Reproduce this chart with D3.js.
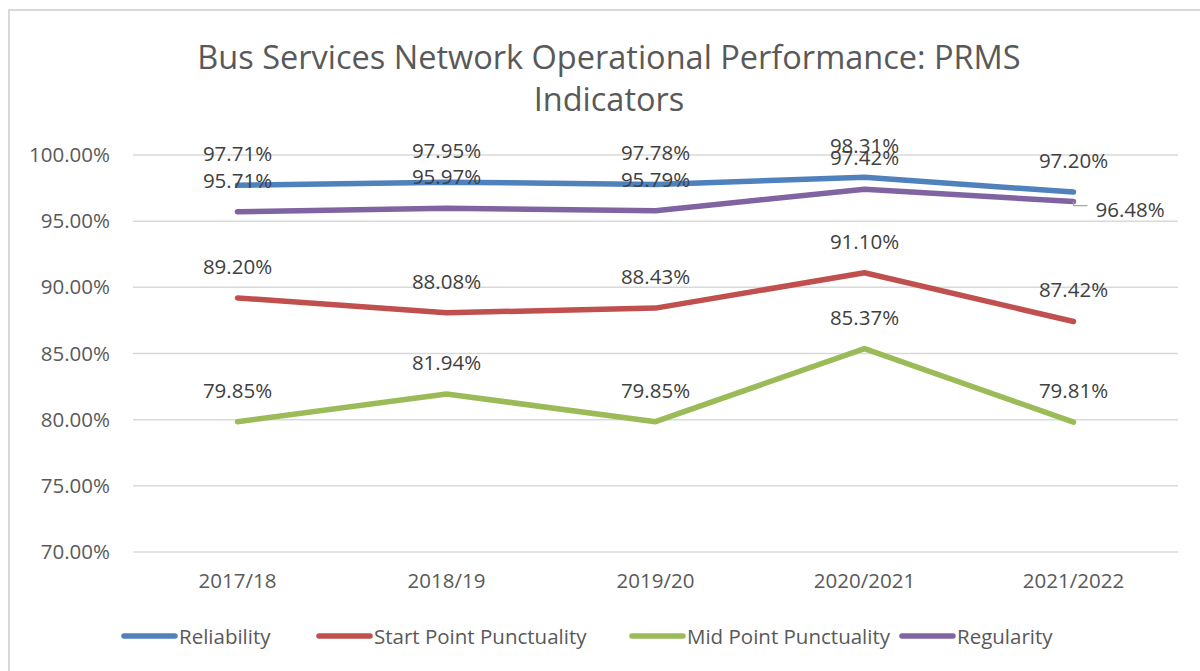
<html>
<head>
<script src="https://d3js.org/d3.v7.min.js"></script>
<style>
  body { margin: 0; background: #fff; }
  text { font-family: "Open Sans", sans-serif; }
</style>
</head>
<body>
<svg id="chart" width="1200" height="671"></svg>
<script>
// data
var years = ["2017/18", "2018/19", "2019/20", "2020/2021", "2021/2022"];
var reliability = [97.71, 97.95, 97.78, 98.31, 97.20];
var startPoint = [89.20, 88.08, 88.43, 91.10, 87.42];
var midPoint = [79.85, 81.94, 79.85, 85.37, 79.81];
var regularity = [95.71, 95.97, 95.79, 97.42, 96.48];
var yTicks = [70, 75, 80, 85, 90, 95, 100];

var series = [
  { name: "Reliability", values: reliability, color: "#4f81bd" },
  { name: "Start Point Punctuality", values: startPoint, color: "#c0504d" },
  { name: "Mid Point Punctuality", values: midPoint, color: "#9bbb59" },
  { name: "Regularity", values: regularity, color: "#8064a2" }
];

var svg = d3.select("#chart");
var plotLeft = 133, plotRight = 1178, plotTop = 155, plotBottom = 552;
var fs = 20.5;

// chart border
svg.append("rect")
  .attr("x", 9).attr("y", 10).attr("width", 1200).attr("height", 700)
  .attr("fill", "none").attr("stroke", "#d9d9d9").attr("stroke-width", 2);

svg.append("text")
  .attr("x", 609).attr("y", 69)
  .attr("text-anchor", "middle").attr("font-size", 32.5).attr("fill", "#595959")
  .text("Bus Services Network Operational Performance: PRMS");
svg.append("text")
  .attr("x", 609).attr("y", 111)
  .attr("text-anchor", "middle").attr("font-size", 32.5).attr("fill", "#595959")
  .text("Indicators");

var x = d3.scaleBand().domain(years).range([plotLeft, plotRight]);
var y = d3.scaleLinear().domain([70, 100]).range([plotBottom, plotTop]);

// grid
svg.append("g").selectAll("line")
  .data(yTicks).enter().append("line")
  .attr("x1", plotLeft).attr("x2", plotRight)
  .attr("y1", d => y(d)).attr("y2", d => y(d))
  .attr("stroke", "#d9d9d9").attr("stroke-width", 1.5);

var yAxis = d3.axisLeft(y).tickValues(yTicks).tickSize(0).tickPadding(23)
  .tickFormat(d => d.toFixed(2) + "%");
var ya = svg.append("g").attr("transform", "translate(" + plotLeft + ",0)").call(yAxis);
ya.select(".domain").remove();
ya.selectAll("text").attr("font-size", fs).attr("fill", "#595959")
  .style("font-family", "'Open Sans', sans-serif");

var xAxis = d3.axisBottom(x).tickSize(0).tickPadding(21);
var xa = svg.append("g").attr("transform", "translate(0," + plotBottom + ")").call(xAxis);
xa.select(".domain").remove();
xa.selectAll("text").attr("font-size", fs).attr("fill", "#595959")
  .style("font-family", "'Open Sans', sans-serif");

var cx = d => x(d) + x.bandwidth() / 2;
var line = d3.line().x((d, i) => cx(years[i])).y(d => y(d));

series.forEach(function(s) {
  svg.append("path")
    .datum(s.values)
    .attr("d", line)
    .attr("fill", "none")
    .attr("stroke", s.color)
    .attr("stroke-width", 5.5)
    .attr("stroke-linecap", "round")
    .attr("stroke-linejoin", "round");
});

// data labels
series.forEach(function(s) {
  s.values.forEach(function(v, i) {
    var lx = cx(years[i]), ly = y(v) - 24;
    var anchor = "middle";
    if (s.name === "Regularity" && i === 4) {
      // label placed to the right with a leader line
      svg.append("path")
        .attr("d", "M" + lx + "," + y(v) + "V" + (y(v) + 4) + "H" + (lx + 14))
        .attr("fill", "none").attr("stroke", "#a6a6a6").attr("stroke-width", 1.2);
      lx = lx + 22; ly = y(v) + 15; anchor = "start";
    }
    svg.append("text")
      .attr("x", lx).attr("y", ly)
      .attr("text-anchor", anchor)
      .attr("font-size", fs).attr("fill", "#404040")
      .text(v.toFixed(2) + "%");
  });
});

// legend
var legendX = [122, 317, 630, 900];
series.forEach(function(s, i) {
  var g = svg.append("g").attr("transform", "translate(" + legendX[i] + ",636)");
  g.append("line").attr("x1", 2).attr("x2", 53).attr("y1", 0).attr("y2", 0)
    .attr("stroke", s.color).attr("stroke-width", 5.5).attr("stroke-linecap", "round");
  g.append("text").attr("x", 57).attr("y", 7.5)
    .attr("font-size", fs).attr("fill", "#595959").text(s.name);
});
</script>
</body>
</html>
